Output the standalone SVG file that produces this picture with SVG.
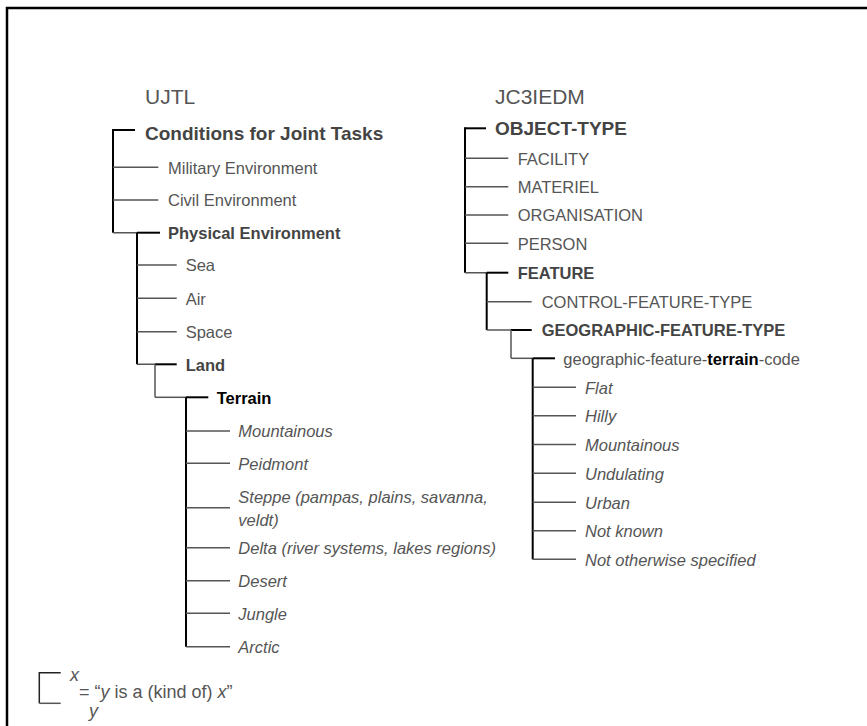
<svg xmlns="http://www.w3.org/2000/svg" width="867" height="726" viewBox="0 0 867 726">
<style>
text{font-family:"Liberation Sans",Arial,sans-serif;font-size:16.5px;fill:#555}
.title{font-size:21px}
.root{font-size:19px;font-weight:bold;fill:#444}
.b{font-weight:bold;fill:#444}
.k{font-weight:bold;fill:#000}
.i{font-style:italic}
.lg{font-size:18px}
.v{stroke:#000;stroke-width:2;fill:none}
.s{stroke:#000;stroke-width:2;fill:none}
.h{stroke:#555;stroke-width:1.5;fill:none}
</style>
<rect width="867" height="726" fill="#fff"/>
<path d="M7 726V8H867" fill="none" stroke="#000" stroke-width="2.5"/>

<g id="connectors">
<!-- UJTL -->
<path class="s" d="M113 130H135"/>
<path class="v" d="M113 129V232.7"/>
<path class="h" d="M113 167.3H158.3M113 200H158.3M113 232.7H137"/>
<path class="s" d="M137 232.7H160"/>
<path class="v" d="M137 232.7V364.3"/>
<path class="h" d="M137 265H176.7M137 298.3H176.7M137 331.7H176.7M137 364.3H155"/>
<path class="s" d="M155 364.3H176.7"/>
<path class="v" d="M155 364.3V397.3" style="stroke:#555;stroke-width:1.5"/>
<path class="h" d="M155 397.3H186"/>
<path class="s" d="M186 397.3H208.3"/>
<path class="v" d="M186 397.3V646.7"/>
<path class="h" d="M186 431H230M186 463.3H230M186 507.7H230M186 547.7H230M186 580.7H230M186 613.3H230M186 646.7H230"/>
<!-- JC3IEDM -->
<path class="s" d="M465 128.3H486"/>
<path class="v" d="M465 127.3V272.7"/>
<path class="h" d="M465 158.3H508.3M465 186.7H508.3M465 215H508.3M465 243.3H508.3M465 272.7H486.7"/>
<path class="s" d="M486.7 272.7H508.3"/>
<path class="v" d="M486.7 272.7V330"/>
<path class="h" d="M486.7 301.7H531.7M486.7 330H511"/>
<path class="s" d="M511 330H531.7"/>
<path class="v" d="M511 330V358.3" style="stroke:#555;stroke-width:1.5"/>
<path class="h" d="M511 358.3H532.7"/>
<path class="s" d="M532.7 358.3H555"/>
<path class="v" d="M532.7 358.3V559.3"/>
<path class="h" d="M532.7 387.3H576M532.7 415.7H576M532.7 444.5H576M532.7 473.3H576M532.7 502.3H576M532.7 530.7H576M532.7 559.3H576"/>
<!-- legend -->
<path d="M60.7 672.7H39.3V703.3" fill="none" stroke="#222" stroke-width="1.5"/>
<path class="h" d="M39.3 703.3H60.7"/>
</g>

<g id="ujtl">
<text class="title" x="145" y="104">UJTL</text>
<g id="conditions"><text class="root" x="145" y="140">Conditions for Joint Tasks</text></g>
<g id="military"><text x="168" y="173.5">Military Environment</text></g>
<g id="civil"><text x="168" y="206.2">Civil Environment</text></g>
<g id="physical"><text class="b" x="168" y="238.9">Physical Environment</text></g>
<g id="sea"><text x="185.7" y="271.2">Sea</text></g>
<g id="air"><text x="185.7" y="304.5">Air</text></g>
<g id="space"><text x="185.7" y="337.9">Space</text></g>
<g id="land"><text class="b" x="185.7" y="370.5">Land</text></g>
<g id="terrain"><text class="k" x="216.7" y="403.5">Terrain</text></g>
<g id="u-mountainous"><text class="i" x="238.3" y="437.2">Mountainous</text></g>
<g id="u-peidmont"><text class="i" x="238.3" y="469.5">Peidmont</text></g>
<g id="u-steppe"><text class="i" x="238.3" y="502.5">Steppe (pampas, plains, savanna,<tspan x="238.3" y="525.5">veldt)</tspan></text></g>
<g id="u-delta"><text class="i" x="238.3" y="553.9">Delta (river systems, lakes regions)</text></g>
<g id="u-desert"><text class="i" x="238.3" y="586.9">Desert</text></g>
<g id="u-jungle"><text class="i" x="238.3" y="619.5">Jungle</text></g>
<g id="u-arctic"><text class="i" x="238.3" y="652.9">Arctic</text></g>
</g>

<g id="jc3iedm">
<text class="title" x="495" y="104">JC3IEDM</text>
<g id="object-type"><text class="root" x="495" y="135.2">OBJECT-TYPE</text></g>
<g id="facility"><text x="517.7" y="164.5">FACILITY</text></g>
<g id="materiel"><text x="517.7" y="192.9">MATERIEL</text></g>
<g id="organisation"><text x="517.7" y="221.2">ORGANISATION</text></g>
<g id="person"><text x="517.7" y="249.5">PERSON</text></g>
<g id="feature"><text class="b" x="517.7" y="278.9">FEATURE</text></g>
<g id="control-feature-type"><text x="541.7" y="307.9">CONTROL-FEATURE-TYPE</text></g>
<g id="geographic-feature-type"><text class="b" x="541.7" y="336.2">GEOGRAPHIC-FEATURE-TYPE</text></g>
<g id="terrain-code"><text x="563.3" y="364.5">geographic-feature-<tspan class="k">terrain</tspan>-code</text></g>
<g id="j-flat"><text class="i" x="585" y="393.5">Flat</text></g>
<g id="j-hilly"><text class="i" x="585" y="421.9">Hilly</text></g>
<g id="j-mountainous"><text class="i" x="585" y="450.7">Mountainous</text></g>
<g id="j-undulating"><text class="i" x="585" y="479.5">Undulating</text></g>
<g id="j-urban"><text class="i" x="585" y="508.5">Urban</text></g>
<g id="j-notknown"><text class="i" x="585" y="536.9">Not known</text></g>
<g id="j-nos"><text class="i" x="585" y="565.5">Not otherwise specified</text></g>
</g>

<g id="legend">
<text class="i lg" x="70" y="681">x</text>
<text class="i lg" x="89" y="717">y</text>
<text class="lg" x="79" y="698">= “<tspan class="i">y</tspan> is a (kind of) <tspan class="i">x</tspan>”</text>
</g>
</svg>
